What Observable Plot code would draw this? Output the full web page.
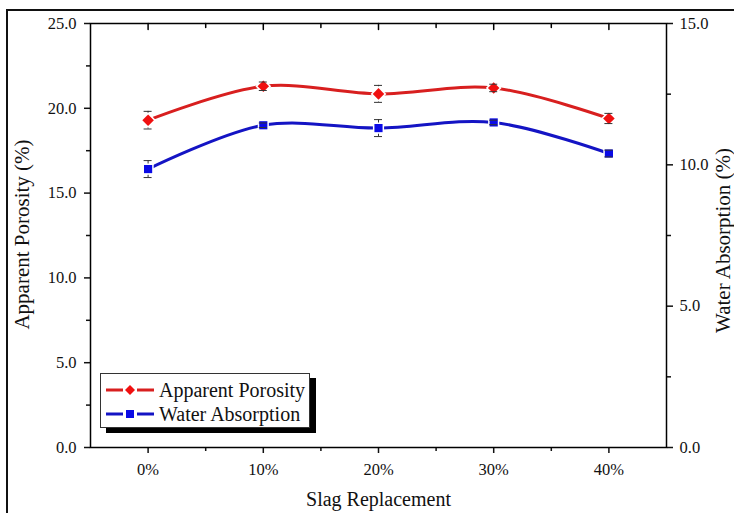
<!DOCTYPE html>
<html><head><meta charset="utf-8">
<script src="https://cdn.jsdelivr.net/npm/d3@7"></script>
<script src="https://cdn.jsdelivr.net/npm/@observablehq/plot@0.6"></script>
<style>
body{margin:0;background:#fff;}
#wrap{position:relative;width:734px;height:513px;overflow:hidden;font-family:"Liberation Serif","Times New Roman",Tinos,"DejaVu Serif",serif;background:#fff;}
#wrap svg.plot{position:absolute;left:0;top:0;}
#border{position:absolute;left:6px;top:9px;width:800px;height:600px;border-top:2px solid #111;border-left:2px solid #111;}
#legend{position:absolute;left:100px;top:373px;width:208px;height:53px;border:1px solid #333;background:#fff;box-shadow:6px 5px 0 #000;}
#legend .row{position:absolute;left:0;height:24px;display:flex;align-items:center;}
#legend .row svg{display:block;margin-left:4px;}
#legend .row span{font-family:"Liberation Serif","Times New Roman",Tinos,"DejaVu Serif",serif;font-size:20px;color:#111;margin-left:4px;white-space:nowrap;}
</style></head>
<body>
<div id="wrap"><div id="border"></div></div>
<script>
// ---- data ----
const categories = ["0%", "10%", "20%", "30%", "40%"];
const porosity = [19.3, 21.3, 20.85, 21.2, 19.4];
const porosityErr = [0.52, 0.25, 0.5, 0.22, 0.3];
const absorption = [9.85, 11.4, 11.3, 11.5, 10.4];
const absorptionErr = [0.3, 0.08, 0.3, 0.08, 0.12];
const leftTicks = [0, 5, 10, 15, 20, 25];
const leftMinor = [2.5, 7.5, 12.5, 17.5, 22.5];
const rightTicks = [0, 5, 10, 15];
const rightMinor = [2.5, 7.5, 12.5];
const seriesNames = ["Apparent Porosity", "Water Absorption"];
const xLabel = "Slag Replacement";
const yLabel = "Apparent Porosity (%)";
const y2Label = "Water Absorption (%)";

const serif = '"Liberation Serif","Times New Roman",Tinos,"DejaVu Serif",serif';
const k = 25 / 15; // right axis (0–15) mapped onto left axis (0–25)
const redLine = "#d81f1f", redDot = "#f01010";
const blueLine = "#1414c4", blueDot = "#0a0ae6";

const rows = categories.map((c, i) => ({
  i, c,
  p: porosity[i], pe: porosityErr[i],
  w: absorption[i] * k, we: absorptionErr[i] * k
}));
const idx = categories.map((c, i) => i);
const tickShape = {draw(ctx, l) { ctx.moveTo(0, 0); ctx.lineTo(0, l); }};

const errMarks = (yk, ek) => [
  Plot.ruleX(rows, {x: "i", y1: d => d[yk] - d[ek], y2: d => d[yk] + d[ek], stroke: "#333", strokeWidth: 1})
];
const capMarks = (yk, ek) => [
  Plot.ruleY(rows, {x1: "i", x2: "i", y: d => d[yk] + d[ek], insetLeft: -4, insetRight: -4, stroke: "#333", strokeWidth: 1}),
  Plot.ruleY(rows, {x1: "i", x2: "i", y: d => d[yk] - d[ek], insetLeft: -4, insetRight: -4, stroke: "#333", strokeWidth: 1})
];

const chart = Plot.plot({
  width: 734, height: 513,
  marginLeft: 90, marginRight: 68, marginTop: 23, marginBottom: 66,
  style: {fontFamily: serif, fontSize: "16px", color: "#111", background: "transparent"},
  x: {type: "linear", domain: [-0.5, 4.5]},
  y: {domain: [0, 25]},
  marks: [
    // axes
    Plot.axisY({anchor: "left", ticks: leftTicks, tickFormat: d => d.toFixed(1), tickSize: 6, tickPadding: 8, strokeWidth: 1.5, label: null, fontSize: 16.5, fontFamily: serif}),
    Plot.axisY({anchor: "left", ticks: leftMinor, tickFormat: () => "", tickSize: 4, strokeWidth: 1.5, label: null}),
    Plot.axisY({anchor: "right", ticks: rightTicks.map(v => v * k), tickFormat: d => (d / k).toFixed(1), tickSize: 6, tickPadding: 7, strokeWidth: 1.5, label: null, fontSize: 16.5, fontFamily: serif}),
    Plot.axisY({anchor: "right", ticks: rightMinor.map(v => v * k), tickFormat: () => "", tickSize: 4, strokeWidth: 1.5, label: null}),
    Plot.axisX({anchor: "bottom", ticks: idx, tickFormat: i => categories[i], tickSize: 6, tickPadding: 10, strokeWidth: 1.5, label: null, fontSize: 16.5, fontFamily: serif}),
    Plot.axisX({anchor: "bottom", ticks: idx.slice(1).map(i => i - 0.5), tickFormat: () => "", tickSize: 4, strokeWidth: 1.5, label: null}),
    // inward top ticks
    Plot.vector(idx, {x: d => d, y: 25, length: 6, anchor: "start", shape: tickShape, stroke: "#000", strokeWidth: 1.5}),
    Plot.vector(idx.slice(1).map(i => i - 0.5), {x: d => d, y: 25, length: 4, anchor: "start", shape: tickShape, stroke: "#000", strokeWidth: 1.5}),
    Plot.frame({stroke: "#000", strokeWidth: 1.5}),
    // series lines
    Plot.line(rows, {x: "i", y: "p", curve: "catmull-rom", stroke: redLine, strokeWidth: 3}),
    Plot.line(rows, {x: "i", y: "w", curve: "catmull-rom", stroke: blueLine, strokeWidth: 3}),
    ...errMarks("p", "pe"), ...errMarks("w", "we"),
    Plot.dot(rows, {x: "i", y: "p", symbol: "diamond2", r: 5.2, fill: redDot, stroke: "#fff", strokeWidth: 3, paintOrder: "stroke"}),
    Plot.dot(rows, {x: "i", y: "w", symbol: "square", r: 4.6, fill: blueDot, stroke: "#fff", strokeWidth: 3, paintOrder: "stroke"}),
    ...capMarks("p", "pe"), ...capMarks("w", "we"),
    // axis titles
    Plot.text([yLabel], {frameAnchor: "left", textAnchor: "middle", lineAnchor: "middle", dx: -68, dy: -1, rotate: -90, fontSize: 21, fontFamily: serif, fill: "#111"}),
    Plot.text([y2Label], {frameAnchor: "right", textAnchor: "middle", lineAnchor: "middle", dx: 57, dy: 5, rotate: -90, fontSize: 21, fontFamily: serif, fill: "#111"}),
    Plot.text([xLabel], {frameAnchor: "bottom", textAnchor: "middle", lineAnchor: "middle", dy: 52, fontSize: 20, fontFamily: serif, fill: "#111"})
  ]
});
const wrap = document.getElementById("wrap");
wrap.appendChild(chart);

// legend
const legend = document.createElement("div");
legend.id = "legend";
const legendItems = [
  {name: seriesNames[0], line: redLine, dot: redDot, shape: "diamond"},
  {name: seriesNames[1], line: blueLine, dot: blueDot, shape: "square"}
];
legendItems.forEach((it, j) => {
  const row = document.createElement("div");
  row.className = "row";
  row.style.top = (4 + j * 24) + "px";
  const marker = it.shape === "diamond"
    ? `<path d="M25,5 L30,10 L25,15 L20,10 Z" fill="${it.dot}"/>`
    : `<rect x="21" y="6" width="8" height="8" fill="${it.dot}"/>`;
  row.innerHTML = `<svg width="50" height="20"><line x1="1" y1="10" x2="18" y2="10" stroke="${it.line}" stroke-width="3"/><line x1="32" y1="10" x2="49" y2="10" stroke="${it.line}" stroke-width="3"/>${marker}</svg><span>${it.name}</span>`;
  legend.appendChild(row);
});
wrap.appendChild(legend);
</script>
</body></html>
